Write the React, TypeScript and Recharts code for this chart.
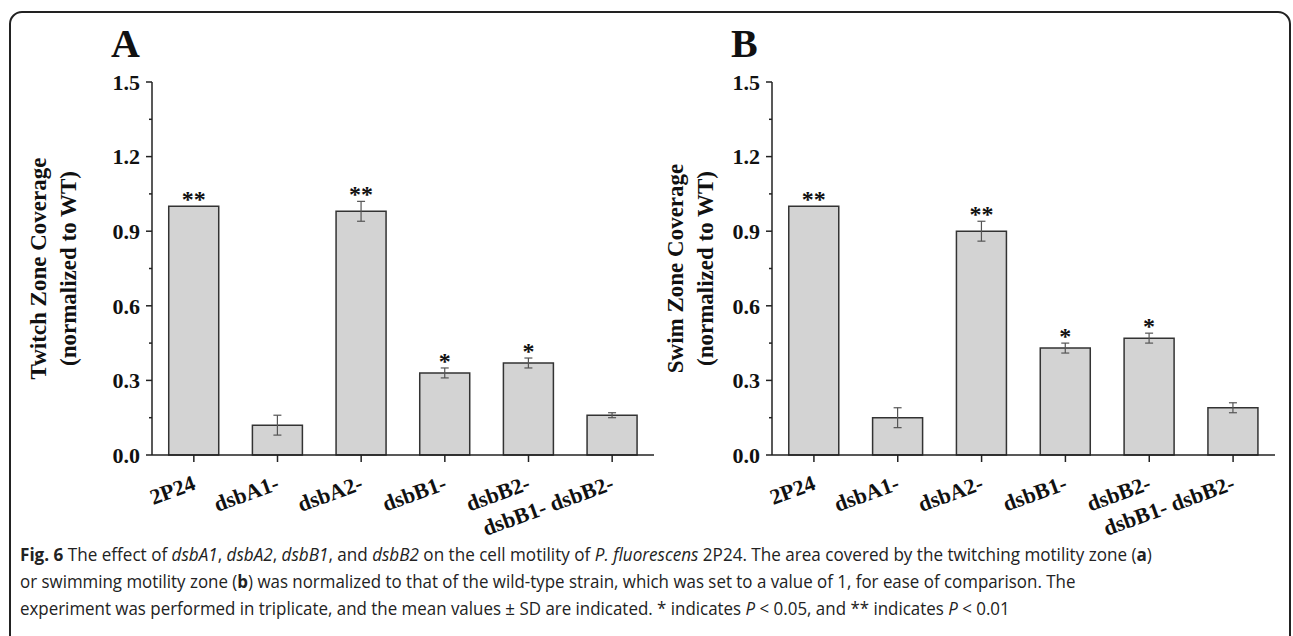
import React, { useLayoutEffect, useRef, useState } from 'react';
import { BarChart, Bar, XAxis, YAxis, ErrorBar, LabelList } from 'recharts';

const categories = ['2P24', 'dsbA1-', 'dsbA2-', 'dsbB1-', 'dsbB2-', 'dsbB1- dsbB2-'];
const twitchMean = [1.0, 0.12, 0.98, 0.33, 0.37, 0.16];
const twitchSD = [0, 0.04, 0.04, 0.02, 0.02, 0.01];
const swimMean = [1.0, 0.15, 0.9, 0.43, 0.47, 0.19];
const swimSD = [0, 0.04, 0.04, 0.02, 0.02, 0.02];
const significance = ['**', '', '**', '*', '*', ''];
const yTicks = [0, 0.15, 0.3, 0.45, 0.6, 0.75, 0.9, 1.05, 1.2, 1.35, 1.5];
const majorTicks = [0, 0.3, 0.6, 0.9, 1.2, 1.5];

const SERIF = '"Liberation Serif", "Times New Roman", serif';
const SANS = '"Open Sans", "Noto Sans", sans-serif';
const INK = '#222';

const build = (mean: number[], sd: number[]) =>
  categories.map((name, i) => ({ name, mean: mean[i], sd: sd[i], sig: significance[i] }));

const YTick = ({ x, y, payload }: any) => {
  const major = majorTicks.some(t => Math.abs(t - payload.value) < 1e-6);
  return (
    <g>
      <line x1={x} x2={x - (major ? 6 : 3)} y1={y} y2={y} stroke={INK} strokeWidth={1.5} />
      {major && (
        <text x={x - 12} y={y} dy="0.35em" textAnchor="end" fontFamily={SERIF}
          fontWeight="bold" fontSize={22} fill="#111">
          {payload.value.toFixed(1)}
        </text>
      )}
    </g>
  );
};

const XTick = ({ x, y, payload }: any) => {
  const px = x + 3;
  const py = y + 25;
  return (
    <text x={px} y={py} transform={`rotate(-20, ${px}, ${py})`} textAnchor="end"
      fontFamily={SERIF} fontWeight="bold" fontSize={22} fill="#111">
      {payload.value}
    </text>
  );
};

const makeYLabel = (lines: string[], xs: number[]) => (props: any) => {
  const vb = props.viewBox;
  const cy = vb.y + vb.height / 2;
  return (
    <g>
      {lines.map((t, i) => (
        <text key={i} x={xs[i]} y={cy} transform={`rotate(-90, ${xs[i]}, ${cy})`}
          textAnchor="middle" fontFamily={SERIF} fontWeight="bold" fontSize={23} fill="#111">
          {t}
        </text>
      ))}
    </g>
  );
};

const makeSig = (data: { mean: number; sd: number }[]) => (props: any) => {
  const { x, y, width, height, value, index } = props;
  if (!value) return null;
  const d = data[index];
  const top = y - (height / d.mean) * d.sd;
  return (
    <text x={x + width / 2} y={top + 1} textAnchor="middle" fontFamily={SERIF}
      fontWeight="bold" fontSize={24} fill="#111">
      {value}
    </text>
  );
};

function Panel({ data, yWidth, width, marginRight, labelLines, labelXs }: any) {
  return (
    <BarChart width={width} height={540} data={data} barCategoryGap="20%"
      margin={{ top: 82, right: marginRight, bottom: 0, left: 0 }}>
      <XAxis dataKey="name" interval={0} height={85} tick={<XTick />} tickSize={7}
        tickLine={{ stroke: INK, strokeWidth: 1.5 }} axisLine={{ stroke: INK, strokeWidth: 1.5 }} />
      <YAxis domain={[0, 1.5]} ticks={yTicks} interval={0} width={yWidth} tickSize={0} tickMargin={0}
        tick={<YTick />} tickLine={false} axisLine={{ stroke: INK, strokeWidth: 1.5 }}
        label={{ content: makeYLabel(labelLines, labelXs) }} />
      <Bar dataKey="mean" fill="#d3d3d3" stroke="#333" strokeWidth={1.5} isAnimationActive={false}>
        <ErrorBar dataKey="sd" width={4} stroke="#555" strokeWidth={1.2} direction="y" />
        <LabelList dataKey="sig" content={makeSig(data)} />
      </Bar>
    </BarChart>
  );
}

// caption line squeezed horizontally to the width it has in the figure
function CaptionLine({ top, width, children }: any) {
  const ref = useRef<HTMLDivElement>(null);
  const [k, setK] = useState(1);
  useLayoutEffect(() => {
    const w = ref.current ? ref.current.scrollWidth : 0;
    if (w) setK(width / w);
  }, [width]);
  return (
    <div ref={ref} style={{
      position: 'absolute', left: 20, top, whiteSpace: 'nowrap', fontFamily: SANS,
      fontSize: 17.5, lineHeight: '20px', color: '#222',
      transform: `scaleX(${k})`, transformOrigin: '0 0',
    }}>
      {children}
    </div>
  );
}

export default function App() {
  const twitch = build(twitchMean, twitchSD);
  const swim = build(swimMean, swimSD);
  return (
    <div style={{ position: 'relative', width: 1293, height: 636, overflow: 'hidden', background: '#fff' }}>
      <style>{'body{margin:0}'}</style>
      <div style={{ position: 'absolute', left: 0, top: 0 }}>
        <Panel data={twitch} width={660} yWidth={152} marginRight={6}
          labelLines={['Twitch Zone Coverage', '(normalized to WT)']} labelXs={[46, 76]} />
      </div>
      <div style={{ position: 'absolute', left: 640, top: 0 }}>
        <Panel data={swim} width={650} yWidth={132} marginRight={15}
          labelLines={['Swim Zone Coverage', '(normalized to WT)']} labelXs={[43, 73]} />
      </div>
      <svg width={1293} height={636} style={{ position: 'absolute', left: 0, top: 0, pointerEvents: 'none' }}>
        <rect x={10} y={12} width={1280} height={700} rx={12} ry={12} fill="none" stroke={INK} strokeWidth={2} />
        <text x={111} y={57} fontFamily={SERIF} fontWeight="bold" fontSize={40} fill="#111">A</text>
        <text x={731} y={57} fontFamily={SERIF} fontWeight="bold" fontSize={40} fill="#111">B</text>
      </svg>
      <CaptionLine top={544} width={1132}>
        <b>Fig. 6</b> The effect of <i>dsbA1</i>, <i>dsbA2</i>, <i>dsbB1</i>, and <i>dsbB2</i> on the cell
        motility of <i>P. fluorescens</i> 2P24. The area covered by the twitching motility zone (<b>a</b>)
      </CaptionLine>
      <CaptionLine top={571} width={1055}>
        or swimming motility zone (<b>b</b>) was normalized to that of the wild-type strain, which was set to a
        value of 1, for ease of comparison. The
      </CaptionLine>
      <CaptionLine top={598} width={990}>
        experiment was performed in triplicate, and the mean values ± SD are indicated. * indicates <i>P</i> &lt;
        0.05, and ** indicates <i>P</i> &lt; 0.01
      </CaptionLine>
    </div>
  );
}
